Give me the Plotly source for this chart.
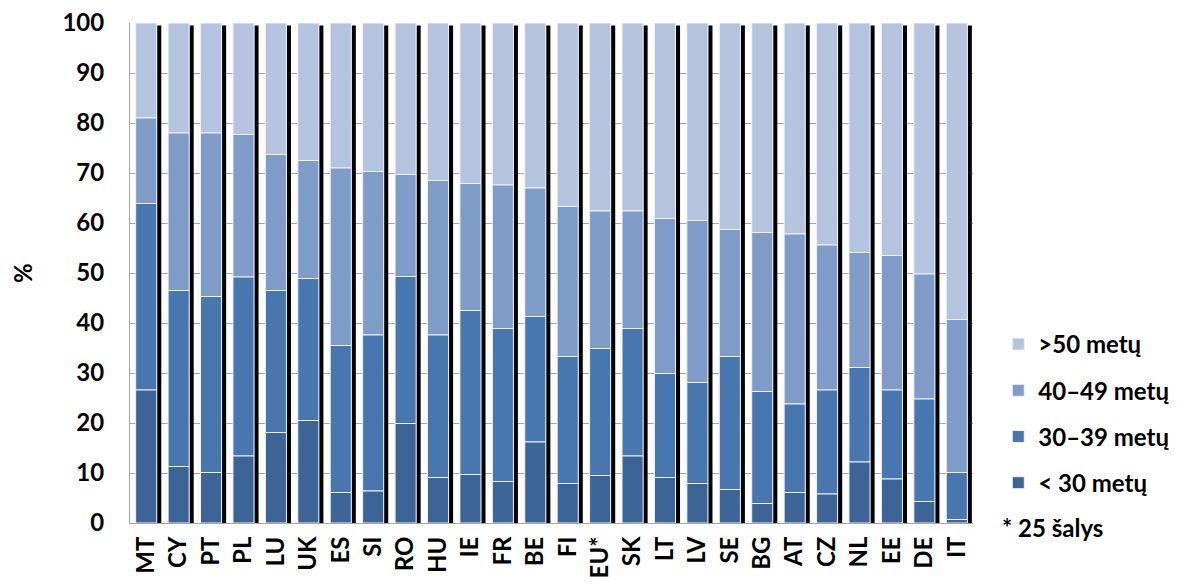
import numpy as np
import plotly.graph_objects as go

categories = ["MT", "CY", "PT", "PL", "LU", "UK", "ES", "SI", "RO", "HU", "IE", "FR", "BE",
              "FI", "EU*", "SK", "LT", "LV", "SE", "BG", "AT", "CZ", "NL", "EE", "DE", "IT"]
under30 = [26.6, 11.3, 10.1, 13.4, 18.1, 20.5, 6.1, 6.4, 19.9, 9.1, 9.7, 8.3, 16.2,
           7.9, 9.5, 13.4, 9.1, 7.9, 6.7, 3.9, 6.1, 5.8, 12.2, 8.8, 4.3, 0.7]
age30_39 = [37.3, 35.2, 35.2, 35.8, 28.4, 28.4, 29.4, 31.2, 29.4, 28.5, 32.8, 30.6, 25.1,
            25.4, 25.4, 25.5, 20.8, 20.2, 26.6, 22.4, 17.7, 20.8, 18.9, 17.8, 20.5, 9.4]
age40_49 = [17.1, 31.5, 32.7, 28.5, 27.2, 23.6, 35.5, 32.7, 20.4, 30.9, 25.4, 28.7, 25.7,
            30.0, 27.5, 23.5, 31.0, 32.4, 25.4, 31.8, 34.0, 29.0, 23.0, 26.9, 25.0, 30.6]
over50 = [19.0, 22.0, 22.0, 22.3, 26.3, 27.5, 29.0, 29.7, 30.3, 31.5, 32.1, 32.4, 33.0,
          36.7, 37.6, 37.6, 39.1, 39.5, 41.3, 41.9, 42.2, 44.4, 45.9, 46.5, 50.2, 59.3]
series_names = ["< 30 metų", "30–39 metų", "40–49 metų", ">50 metų"]
colors = ["#3c6496", "#4877af", "#7f9cc8", "#b5c4de"]
shadow_top = [99.5] * len(categories)

series = [under30, age30_39, age40_49, over50]
cum = np.cumsum(np.array(series), axis=0)
bases = np.vstack([np.zeros(len(categories)), cum[:-1]])

FONT = "Lato"
FS = 24
bold = dict(family=FONT, size=FS, color="black", weight="bold")

fig = go.Figure()

# shadow bars
fig.add_trace(go.Bar(x=categories, y=shadow_top, base=0, width=0.135, offset=0.33,
                     marker=dict(color="black", line=dict(width=0)),
                     showlegend=False, hoverinfo="skip"))

# add from top segment to bottom so legend reads >50 first
for i in reversed(range(len(series))):
    fig.add_trace(go.Bar(x=categories, y=series[i], base=bases[i], name=series_names[i],
                         width=0.65, offset=-0.325,
                         legendgroup=series_names[i],
                         marker=dict(color=colors[i], line=dict(color="#eef2f8", width=1))))

# page body has an 8px margin: shift margins to land the plot area where the reference has it
fig.update_layout(
    barmode="overlay",
    width=1190, height=588,
    margin=dict(l=122, r=225, t=15, b=73, autoexpand=False),
    plot_bgcolor="white", paper_bgcolor="white",
    font=bold,
    legend=dict(x=1.03, xanchor="left", y=0.402, yanchor="top",
                traceorder="grouped", tracegroupgap=12,
                font=bold, itemwidth=30),
    xaxis=dict(tickangle=-90, showgrid=False, showline=True, linecolor="#a6a6a6",
               linewidth=1, ticks="", range=[-0.5, len(categories) - 0.5],
               automargin=False, tickfont=bold, ticklabelstandoff=3,
               ticklabeloverflow="allow"),
    yaxis=dict(range=[0, 100], tickvals=list(range(0, 101, 10)), showgrid=True,
               gridcolor="#a6a6a6", gridwidth=1, showline=True, linecolor="#a6a6a6",
               linewidth=1, ticks="", zeroline=False, automargin=False,
               tickfont=bold, ticklabelstandoff=20, ticklabeloverflow="allow"),
)

fig.add_annotation(text="%", xref="paper", yref="paper", x=-0.128, y=0.5,
                   xanchor="center", yanchor="middle", showarrow=False, textangle=-90,
                   font=bold)

fig.add_annotation(text="* 25 šalys", xref="paper", yref="paper", x=1.032, y=-0.008,
                   xanchor="left", yanchor="middle", showarrow=False,
                   font=bold)

fig.write_html("out.html")
